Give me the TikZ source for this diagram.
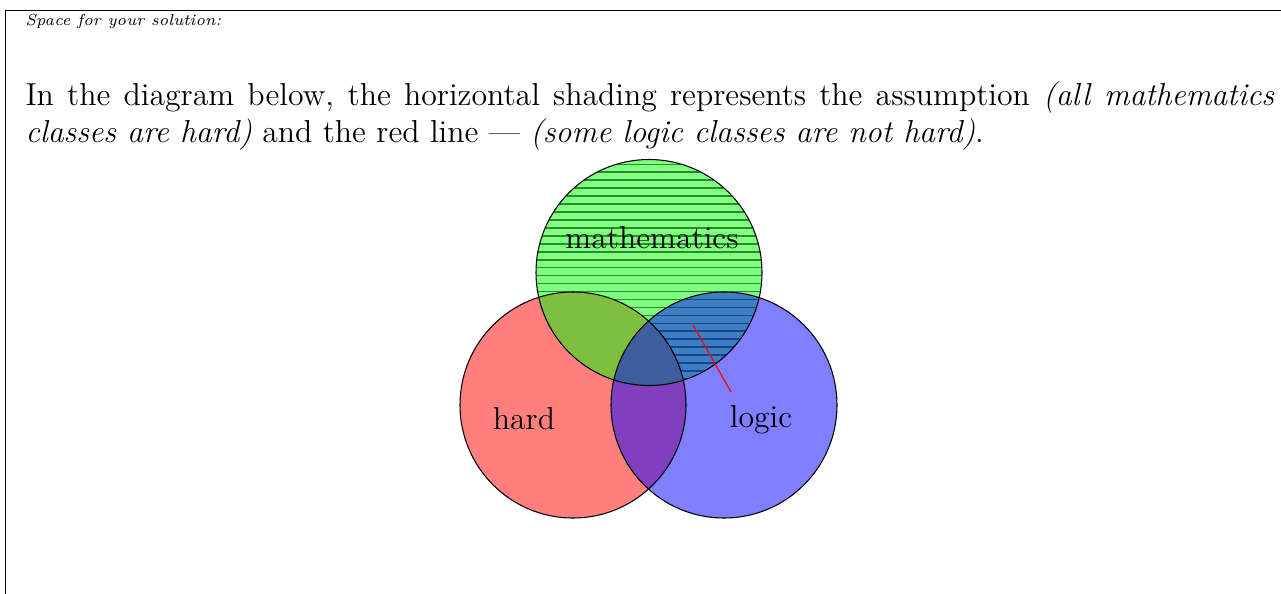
\documentclass[tikz,border=0pt]{standalone}
\definecolor{patcol}{RGB}{50,135,50}
\begin{document}
\begin{tikzpicture}[x=0.3776pt,y=-0.3776pt,
  venn/.style={fill opacity=0.5},
  outline/.style={draw=black,line width=0.4pt},
  hatch/.style={draw=patcol,line width=0.6pt},
  frameline/.style={draw=black,line width=0.45pt},
  bodytext/.style={inner sep=0pt,anchor=base west,font=\fontsize{12}{14.5}\selectfont},
  label/.style={inner sep=0pt,font=\fontsize{12}{14.5}\selectfont}]
\useasboundingbox (0,0) rectangle (1281,593);
% frame
\coordinate (fa) at (5.5,600);
\coordinate (fb) at (5.5,10.5);
\coordinate (fc) at (1290,10.5);
\draw[frameline] (fa) -- (fb) -- (fc);
% texts
\node[inner sep=0pt,anchor=base west,font=\fontsize{6}{7}\selectfont\itshape] (space) at (25,25) {Space for your solution:};
\node[bodytext] (line1) at (25,105) {\makebox[471.6pt][s]{In the diagram below, the horizontal shading represents the assumption \textit{(all mathematics}}};
\node[bodytext] (line2) at (25,142) {\textit{classes are hard)} and the red line --- \textit{(some logic classes are not hard)}.};
% circles
\def\R{42.67pt}
\coordinate (M) at (649,272.5);
\coordinate (H) at (573,405);
\coordinate (L) at (724,405);
\fill[red,venn] (H) circle[radius=\R];
\fill[green,venn] (M) circle[radius=\R];
\begin{scope}
  \clip (M) circle[radius=\R];
  \begin{scope}[even odd rule]
    \clip (H) circle[radius=\R] (0,0) rectangle (1281,593);
    \foreach \k in {0,...,28}{
      \draw[hatch] (530,164.3+7.95*\k) -- (770,164.3+7.95*\k);
    }
  \end{scope}
\end{scope}
\fill[blue,venn] (L) circle[radius=\R];
\draw[outline] (H) circle[radius=\R];
\draw[outline] (M) circle[radius=\R];
\draw[outline] (L) circle[radius=\R];
% red line
\coordinate (r1) at (693,325);
\coordinate (r2) at (731,392);
\draw[red,line width=0.45pt] (r1) -- (r2);
% labels
\node[label,anchor=base] (lm) at (652,248) {mathematics};
\node[label,anchor=base] (lh) at (524,429) {hard};
\node[label,anchor=base] (ll) at (761,427) {logic};
\end{tikzpicture}
\end{document}
